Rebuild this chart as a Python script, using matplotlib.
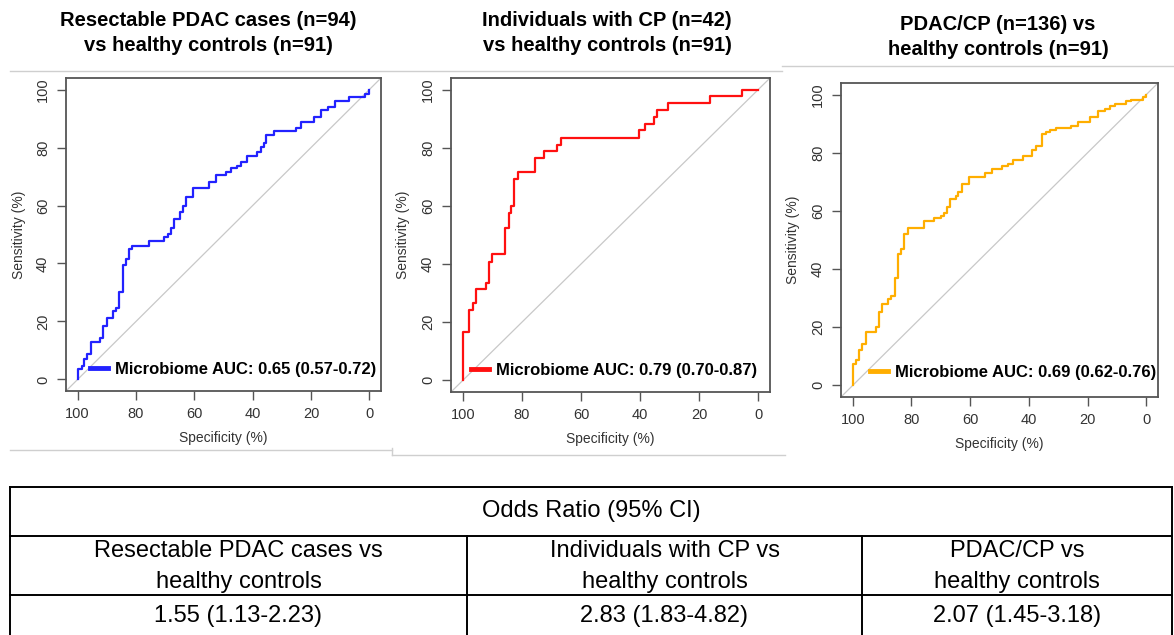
#!/usr/bin/env python3
"""
plot.py - ROC curves of the microbiome classifier for three comparisons
plus the odds ratio table underneath.
"""
import matplotlib
matplotlib.use('Agg')
import matplotlib.pyplot as plt
from matplotlib.lines import Line2D

plt.rcParams['font.family'] = ['Liberation Sans', 'DejaVu Sans']

# ROC vertices (specificity %, sensitivity %)
spec_pdac = [100, 100, 98.6, 97.8, 96.7, 95.6, 92.2, 91.2, 90.1, 87.8, 87.0, 85.7, 84.4, 83.6,
             82.5, 81.3, 75.7, 70.3, 69.0, 68.0, 67.0, 64.8, 63.9, 62.9, 60.5, 55.0, 52.6, 49.3,
             47.4, 45.3, 44.1, 41.9, 38.5, 37.3, 36.2, 35.3, 32.8, 25.3, 23.3, 18.8, 16.5, 14.2,
             11.9, 6.8, 1.4, 0.2, 0]
sens_pdac = [0, 3.5, 4.6, 6.9, 8.6, 12.9, 14.4, 18.4, 21.3, 23.6, 24.8, 30.0, 39.4, 41.7,
             44.9, 46.1, 47.8, 49.0, 50.3, 52.4, 55.5, 57.8, 59.7, 63.1, 66.2, 68.2, 70.5, 71.4,
             72.8, 73.5, 74.9, 77.0, 78.3, 80.1, 81.6, 84.4, 85.8, 86.6, 88.7, 90.7, 93.1, 94.1,
             96.0, 97.4, 98.5, 100, 100]

spec_cp = [100, 100, 97.8, 96.7, 95.5, 92.2, 91.3, 90.1, 85.6, 84.5, 83.7, 82.6, 81.3, 75.7,
           72.4, 68.1, 66.7, 40.3, 38.4, 35.2, 34.1, 30.7, 16.3, 5.4, 0]
sens_cp = [0, 16.7, 24.1, 26.7, 31.3, 33.6, 40.7, 43.3, 52.5, 57.4, 59.9, 69.3, 71.7, 76.5,
           78.8, 81.1, 83.4, 86.0, 88.3, 90.6, 93.1, 95.4, 97.9, 100, 100]

spec_all = [100, 100, 99.0, 97.9, 96.7, 95.6, 92.2, 91.1, 89.9, 87.9, 86.8, 85.6, 84.5, 83.5,
            82.6, 81.1, 75.6, 72.4, 69.9, 69.0, 67.9, 67.0, 64.9, 64.0, 62.8, 60.3, 54.9, 52.4,
            49.3, 47.0, 45.3, 41.9, 38.9, 37.7, 35.5, 34.0, 32.9, 30.6, 25.8, 23.3, 19.0, 16.5,
            14.0, 12.2, 10.8, 6.9, 5.2, 1.2, 0]
sens_all = [0, 7.4, 8.6, 12.0, 14.3, 18.3, 20.0, 25.2, 28.1, 29.8, 30.6, 37.0, 45.2, 47.0,
            52.1, 54.1, 56.7, 57.6, 58.4, 59.2, 61.3, 64.1, 65.3, 66.4, 69.3, 71.6, 73.0, 74.5,
            75.3, 76.2, 77.5, 79.0, 81.0, 82.5, 86.3, 87.1, 87.9, 88.5, 89.3, 90.5, 92.2, 94.3,
            95.1, 96.2, 96.8, 97.7, 98.2, 99.3, 100]

titles = ['Resectable PDAC cases (n=94)\nvs healthy controls (n=91)',
          'Individuals with CP (n=42)\nvs healthy controls (n=91)',
          'PDAC/CP (n=136) vs\nhealthy controls (n=91)']
auc_labels = ['Microbiome AUC: 0.65 (0.57-0.72)',
              'Microbiome AUC: 0.79 (0.70-0.87)',
              'Microbiome AUC: 0.69 (0.62-0.76)']
curve_colors = ['#2222FF', '#FF1010', '#FFAE00']
ticks = [0, 20, 40, 60, 80, 100]

table_header = 'Odds Ratio (95% CI)'
table_groups = ['Resectable PDAC cases vs\nhealthy controls',
                'Individuals with CP vs\nhealthy controls',
                'PDAC/CP vs\nhealthy controls']
table_or = ['1.55 (1.13-2.23)', '2.83 (1.83-4.82)', '2.07 (1.45-3.18)']

W, H = 1174, 635
fig = plt.figure(figsize=(W / 100, H / 100), dpi=100)

# axes boxes in pixels: left, top, right, bottom
boxes = [(66, 78, 381, 391), (451, 78, 770, 392), (841, 83, 1158, 397)]
title_pos = [(208, 33), (607, 33), (998, 37)]
legend_anchor = [(0.985, 0.045), (0.96, 0.045), (0.995, 0.055)]
specs = [spec_pdac, spec_cp, spec_all]
senss = [sens_pdac, sens_cp, sens_all]


def plotROC(i):
    l, t, r, b = boxes[i]
    ax = fig.add_axes([l / W, 1 - b / H, (r - l) / W, (b - t) / H])
    ax.axline((100, 0), (0, 100), color='#C8C8C8', lw=0.9, zorder=1)
    ax.plot(specs[i], senss[i], drawstyle='steps-post', color=curve_colors[i], lw=1.6, zorder=2)
    ax.set_xlim(104, -4)
    ax.set_ylim(-4, 104)
    ax.set_xticks(ticks)
    ax.set_yticks(ticks)
    ax.tick_params(length=6.5, width=1, color='#555555', labelcolor='#333333',
                   labelsize=10.5, pad=5)
    for lab in ax.get_yticklabels():
        lab.set_rotation(90)
        lab.set_va('center')
    for s in ax.spines.values():
        s.set_color('#555555')
        s.set_linewidth(1.3)
    ax.set_xlabel('Specificity (%)', fontsize=10, color='#333333')
    ax.set_ylabel('Sensitivity (%)', fontsize=10, color='#333333')
    ax.xaxis.set_label_coords(0.5, -0.128)
    ax.yaxis.set_label_coords(-0.128, 0.5)
    h = Line2D([], [], color=curve_colors[i], lw=3.5)
    ax.legend([h], [auc_labels[i]], loc='lower right', bbox_to_anchor=legend_anchor[i],
              frameon=False, borderpad=0, borderaxespad=0, handlelength=1.1,
              handletextpad=0.4, prop={'weight': 'bold', 'size': 12})
    fig.text(title_pos[i][0] / W, 1 - title_pos[i][1] / H, titles[i], ha='center',
             va='center', fontsize=14.5, fontweight='bold', linespacing=1.45)


for i in range(3):
    plotROC(i)

# overlay in pixel coordinates for the table and the image edges
ov = fig.add_axes([0, 0, 1, 1], zorder=-1)
ov.set_xlim(0, W)
ov.set_ylim(H, 0)
ov.axis('off')

edge = '#CFCFCF'
ov.plot([10, 782], [71, 71], color=edge, lw=1)
ov.plot([782, 1174], [66, 66], color=edge, lw=1)
ov.plot([10, 392], [450, 450], color=edge, lw=1)
ov.plot([392, 785], [455, 455], color=edge, lw=1)
ov.plot([392, 392], [448, 455], color=edge, lw=1)

# odds ratio table
x0, x1 = 10, 1172
cols = [10, 467, 862, 1172]
y_top, y_mid, y_low = 487, 536, 595
lw = 1.4
ov.plot([x0, x1], [y_top, y_top], color='black', lw=lw)
ov.plot([x0, x1], [y_mid, y_mid], color='black', lw=lw)
ov.plot([x0, x1], [y_low, y_low], color='black', lw=lw)
ov.plot([x0, x0], [y_top, H], color='black', lw=lw)
ov.plot([x1, x1], [y_top, H], color='black', lw=lw)
for c in cols[1:-1]:
    ov.plot([c, c], [y_mid, H], color='black', lw=lw)
ov.text((x0 + x1) / 2, (y_top + y_mid) / 2, table_header, ha='center', va='center', fontsize=17)
for j in range(3):
    cx = (cols[j] + cols[j + 1]) / 2
    ov.text(cx, (y_mid + y_low) / 2 + 1, table_groups[j], ha='center', va='center',
            fontsize=17, linespacing=1.5)
    ov.text(cx, 616, table_or[j], ha='center', va='center', fontsize=17)

plt.savefig('out.png', dpi=100)
plt.close('all')
